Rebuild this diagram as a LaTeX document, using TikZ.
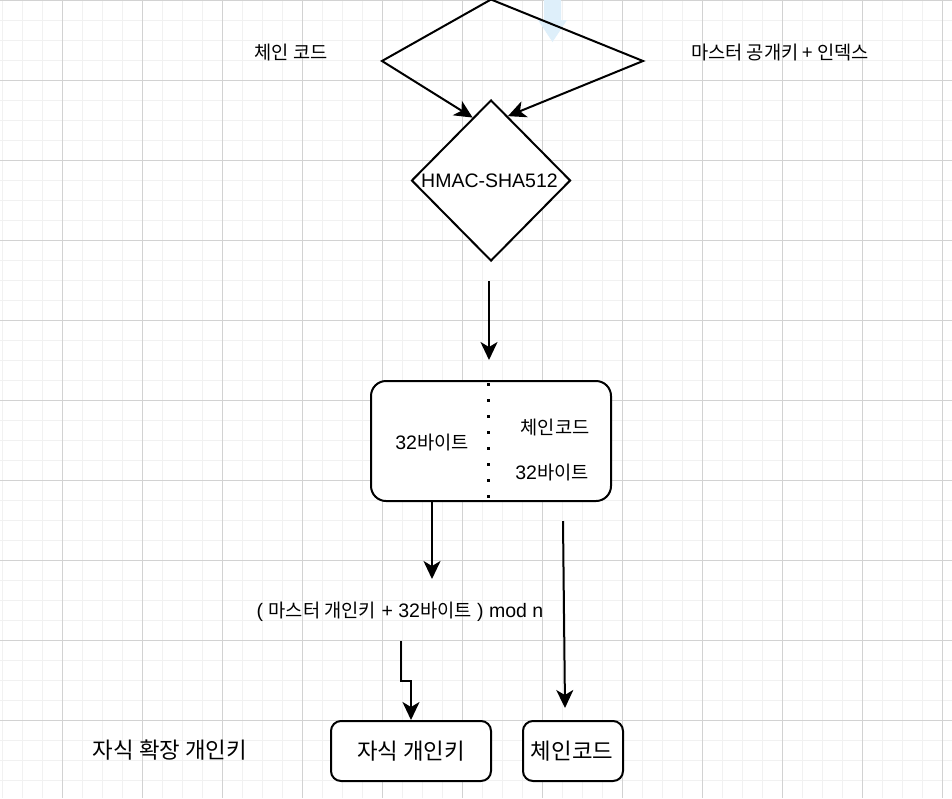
\documentclass[tikz,border=0pt]{standalone}
\usepackage{fontspec}
\setmainfont{Liberation Sans}
\newfontfamily\kr[Scale=0.96]{Noto Sans CJK KR}
\usetikzlibrary{shapes.geometric,arrows.meta,calc}
\definecolor{gridminor}{HTML}{F1F1F1}
\definecolor{gridmajor}{HTML}{D2D2D2}
\definecolor{hint}{HTML}{DEEFFA}
\begin{document}
\begin{tikzpicture}[x=1pt,y=-1pt,
  txt/.style={inner sep=0pt, font=\fontsize{19.5}{23}\selectfont},
  bigtxt/.style={inner sep=0pt, font=\fontsize{23.3}{28}\selectfont},
  box/.style={draw, line width=2pt, fill=white, rounded corners=#1, inner sep=0pt},
  arr/.style={line width=2pt, line join=miter, -{Stealth[length=18pt,width=17pt,inset=5pt]}},
  ln/.style={line width=2pt},
]
\useasboundingbox (0,0) rectangle (952,798);
\fill[white] (0,0) rectangle (952,798);
% grid
\foreach \x in {2,22,...,942} \draw[gridminor, line width=1pt] (\x,0) -- (\x,798);
\foreach \y in {0,20,...,790} \draw[gridminor, line width=1pt] (0,\y) -- (952,\y);
\foreach \x in {62,142,...,942} \draw[gridmajor, line width=1pt] (\x,0) -- (\x,798);
\foreach \y in {0,80,...,790} \draw[gridmajor, line width=1pt] (0,\y) -- (952,\y);

% faint blue arrow at the top
\fill[hint] (544,0) -- (561,0) -- (561,20) -- (567,20) -- (552.5,42) -- (538,20) -- (544,20) -- cycle;

% nodes
\node[draw, line width=2pt, fill=white, diamond, minimum width=159pt, minimum height=161pt, inner sep=0pt] (hmac) at (491,180.5) {};
\node[txt] (hmactxt) at (489.5,181) {HMAC-SHA512};

\node[box=15pt, minimum width=240pt, minimum height=120pt] (split) at (491,441) {};
\node[txt] (lbyte) at (432,442) {32{\kr 바이트}};
\node[txt] (rchain) at (555,427) {\kr 체인코드};
\node[txt] (rbyte) at (552,472) {32{\kr 바이트}};

\node[txt] (lchain) at (291,52) {\kr 체인 코드};
\node[txt] (lmaster) at (780,52) {\kr 마스터 공개키 + 인덱스};

\node[txt] (modtxt) at (400,612) {( {\kr 마스터 개인키} + 32{\kr 바이트} ) mod n};

\node[box=10pt, minimum width=160pt, minimum height=60pt] (child) at (411,751) {};
\node[bigtxt] (childtxt) at (411,751) {\kr 자식 개인키};
\node[box=10pt, minimum width=100pt, minimum height=60pt] (chain) at (573,751) {};
\node[bigtxt] (chaintxt) at (572,751) {\kr 체인코드};
\node[bigtxt] (exttxt) at (170,750) {\kr 자식 확장 개인키};

% coordinates
\coordinate (tv) at (491,-0.5);
\coordinate (tl) at (382,61);
\coordinate (tr) at (643,61);
\coordinate (a1s) at (489,281);
\coordinate (a1e) at (489,360);
\coordinate (a2s) at (432,501);
\coordinate (a2e) at (432,579);
\coordinate (a3s) at (401,641);
\coordinate (a3m) at (401,680.5);
\coordinate (a4s) at (563,521);
\coordinate (a4e) at (565,708);

% dotted divider
\draw[line width=3pt, dash pattern=on 3pt off 13pt, dash phase=-2pt] (488,381) -- (488,501);

% connectors
\draw[arr] (tv) -- (tl) -- ($(hmac.west)!0.772!(hmac.north)$);
\draw[arr] (tv) -- (tr) -- ($(hmac.north)!0.21!(hmac.east)$);
\draw[arr] (a1s) -- (a1e);
\draw[arr] (a2s) -- (a2e);
\draw[arr] (a3s) -- (a3m) -| (child.north);
\draw[arr] (a4s) -- (a4e);
\end{tikzpicture}
\end{document}
